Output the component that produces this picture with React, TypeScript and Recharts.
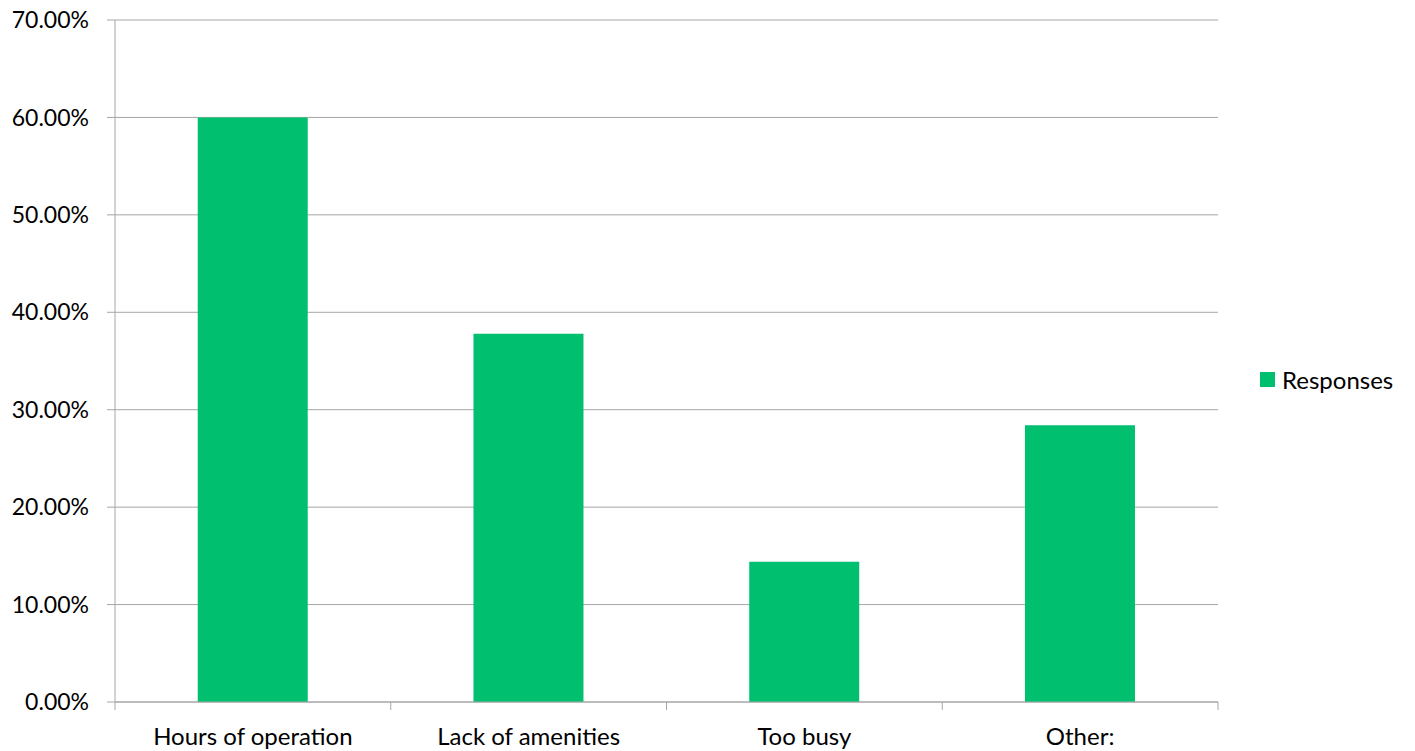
import React from 'react';
import { BarChart, Bar, XAxis, YAxis, CartesianGrid, Legend } from 'recharts';

const categories = ['Hours of operation', 'Lack of amenities', 'Too busy', 'Other:'];
const responses = [0.6, 0.378, 0.144, 0.284];
const yTicks = [0, 0.1, 0.2, 0.3, 0.4, 0.5, 0.6, 0.7];
const seriesName = 'Responses';

const data = categories.map((c, i) => ({ name: c, value: responses[i] }));

const FONT = 'Lato, "Open Sans", sans-serif';
const GRID = '#a6a6a6';
const GREEN = '#00BF6F';
const PLOT_W = 1103;
const HALF_BAND = PLOT_W / categories.length / 2;

const XTick = (props: any) => {
  const { x, y, payload, index } = props;
  return (
    <g>
      <line x1={x - HALF_BAND} x2={x - HALF_BAND} y1={y} y2={y + 8} stroke={GRID} strokeWidth={1} />
      {index === categories.length - 1 && (
        <line x1={x + HALF_BAND} x2={x + HALF_BAND} y1={y} y2={y + 8} stroke={GRID} strokeWidth={1} />
      )}
      <text x={x} y={y + 43} textAnchor="middle" fontSize={24} fontFamily={FONT} fill="#000">
        {payload.value}
      </text>
    </g>
  );
};

const LegendContent = () => (
  <div style={{ display: 'flex', alignItems: 'center', fontFamily: FONT, fontSize: 24, color: '#000', whiteSpace: 'nowrap' }}>
    <span style={{ display: 'inline-block', width: 15, height: 15, background: GREEN, marginRight: 7, flex: 'none' }} />
    <span>{seriesName}</span>
  </div>
);

export default function App() {
  return (
    <div style={{ position: 'absolute', left: 0, top: 0, width: 1415, height: 751, background: '#fff' }}>
      <BarChart
        width={1415}
        height={751}
        data={data}
        margin={{ top: 20, right: 197, bottom: 0, left: 0 }}
        barCategoryGap="30%"
      >
        <CartesianGrid vertical={false} stroke={GRID} strokeWidth={1} />
        <XAxis
          dataKey="name"
          height={49}
          axisLine={{ stroke: GRID }}
          tickLine={false}
          tickSize={0}
          tickMargin={0}
          tick={<XTick />}
          interval={0}
        />
        <YAxis
          width={115}
          domain={[0, 0.7]}
          ticks={yTicks}
          tickFormatter={(v: number) => (v * 100).toFixed(2) + '%'}
          axisLine={{ stroke: GRID }}
          tickLine={{ stroke: GRID }}
          tickSize={8}
          tickMargin={18}
          tick={{ fontSize: 23, fontFamily: FONT, fill: '#000' }}
          interval={0}
        />
        <Legend
          layout="horizontal"
          verticalAlign="middle"
          align="right"
          content={<LegendContent />}
          wrapperStyle={{ position: 'absolute', left: 1260, top: 365, width: 0, height: 0, overflow: 'visible' }}
        />
        <Bar dataKey="value" name={seriesName} fill={GREEN} isAnimationActive={false} />
      </BarChart>
    </div>
  );
}
